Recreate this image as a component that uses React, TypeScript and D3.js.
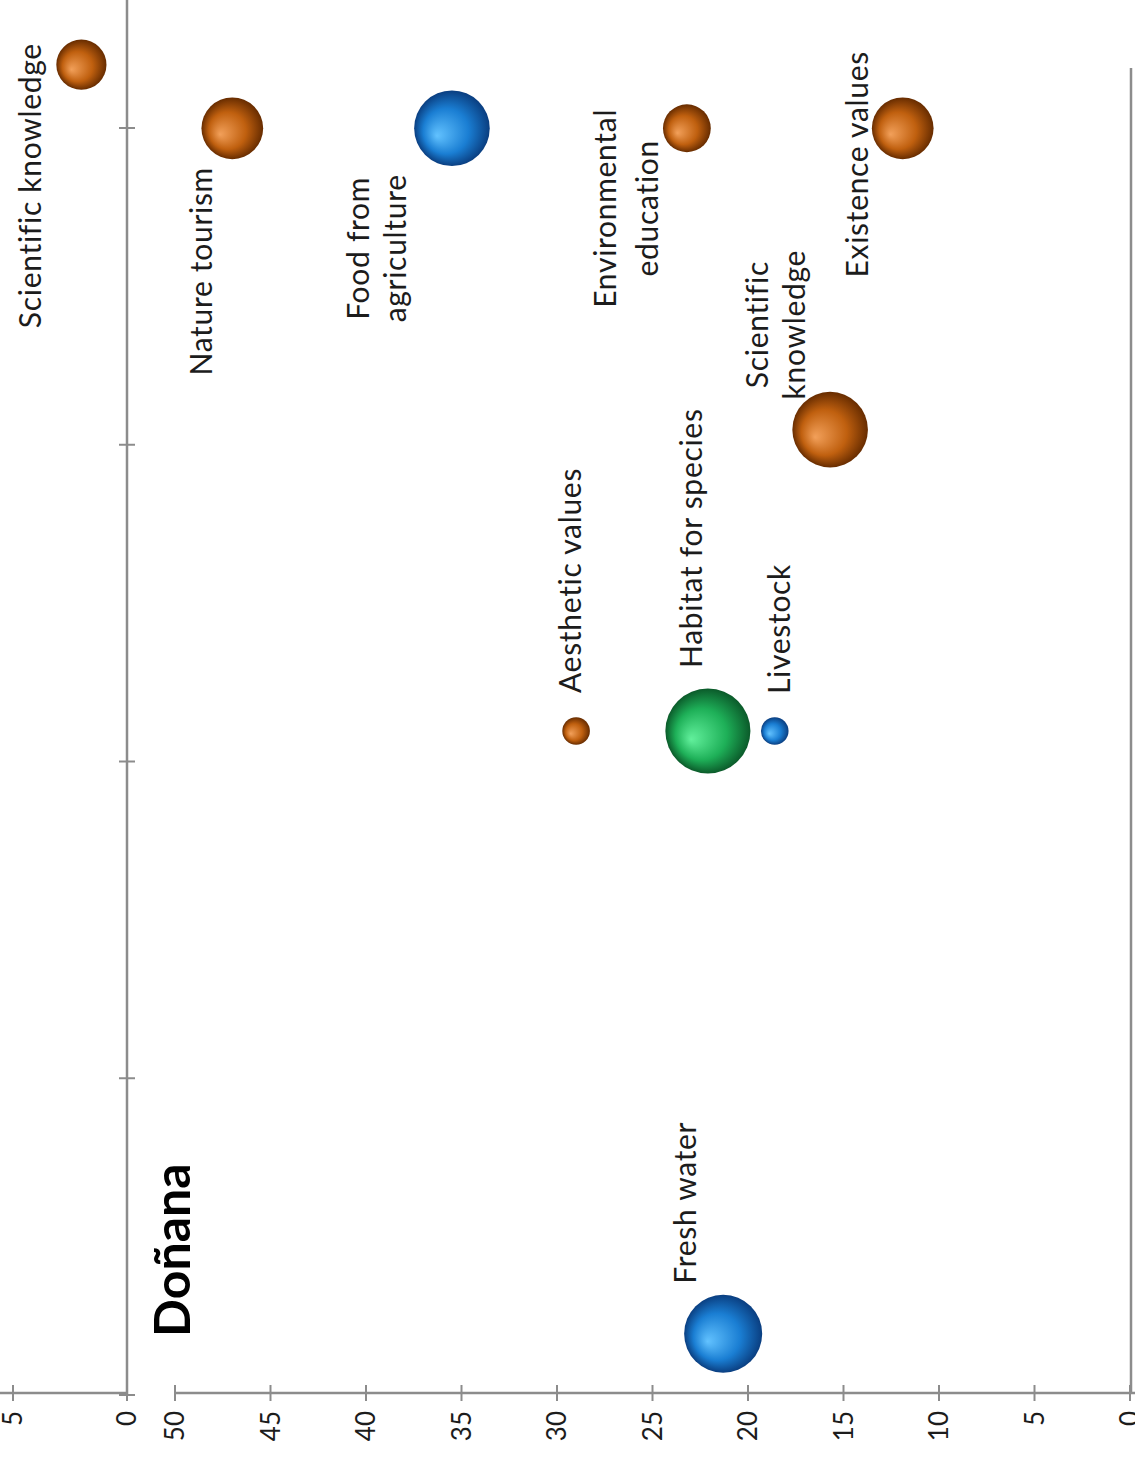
import React from "react";
import * as d3 from "d3";

// ---- Data (lower panel: Doñana) ----
const services = [
  "Nature tourism",
  "Food from\nagriculture",
  "Environmental\neducation",
  "Existence values",
  "Scientific\nknowledge",
  "Aesthetic values",
  "Habitat for species",
  "Livestock",
  "Fresh water",
];
const xValues = [5, 5, 5, 5, 4, 3, 3, 3, 1];
const yValues = [47, 35.5, 23.2, 11.9, 15.7, 29, 22.1, 18.6, 21.3];
const sizes = [5, 7.5, 3, 5, 7.5, 1, 9.5, 1, 8];
const serviceTypes = [
  "cultural",
  "provisioning",
  "cultural",
  "cultural",
  "cultural",
  "cultural",
  "regulating",
  "provisioning",
  "provisioning",
];
const yTicks = [0, 5, 10, 15, 20, 25, 30, 35, 40, 45, 50];

// ---- Data (upper panel, partly visible) ----
const upperServices = ["Scientific knowledge"];
const upperX = [4.2];
const upperY = [2];
const upperSizes = [3.3];
const upperServiceTypes = ["cultural"];
const upperYTicks = [0, 5];
const upperXTicks = [0, 1, 2, 3, 4];

const title = "Doñana";

// ---- Layout (label offsets relative to bubble centre, image space) ----
type LabelLayout = { dx: number[]; dy: number; anchor: "start" | "middle" | "end" };
const labelLayout: LabelLayout[] = [
  { dx: [-20], dy: 143, anchor: "middle" },
  { dx: [-83, -46], dy: 120, anchor: "middle" },
  { dx: [-71, -29], dy: 80, anchor: "middle" },
  { dx: [-35], dy: 36, anchor: "middle" },
  { dx: [-62, -25], dy: -105, anchor: "middle" },
  { dx: [5], dy: -38, anchor: "start" },
  { dx: [-6], dy: -63, anchor: "start" },
  { dx: [15], dy: -37, anchor: "start" },
  { dx: [-27], dy: -131, anchor: "middle" },
];
const upperLabelLayout: LabelLayout[] = [{ dx: [-40], dy: 121, anchor: "middle" }];

const W = 1135;
const H = 1462;
const AXIS = "#8c8c8c";
const TEXT = "#1c1c1c";
const FONT = "Lato, 'Open Sans', sans-serif";

const gradients: Record<string, [string, string, string]> = {
  cultural: ["#f2a05a", "#c0600f", "#672c00"],
  provisioning: ["#62c2ff", "#1a7ed3", "#0a3e80"],
  regulating: ["#62f09c", "#1eb058", "#0b5a2a"],
};

export default function App() {
  // lower panel scales: value axis runs horizontally (image x), category axis vertically (image y)
  const yScale = d3.scaleLinear().domain([0, 50]).range([1130, 175]);
  const xScale = d3.scaleLinear().domain([0.8, 5.2]).range([1394, 68]);
  const rScale = d3.scaleSqrt().domain([0, 1]).range([0, 13.8]);

  // upper panel scales
  const uyScale = d3.scaleLinear().domain([0, 5]).range([127, 13]);
  const uxScale = d3.scaleLinear().domain([0, 4]).range([1395, 128]);

  const lowerAxisY = 1393;
  const upperAxisX = 127;

  const bubble = (cx: number, cy: number, r: number, type: string, key: string) => (
    <circle key={key} cx={cx} cy={cy} r={r} fill={`url(#grad-${type})`} />
  );

  const label = (
    text: string,
    bx: number,
    by: number,
    lay: LabelLayout,
    key: string
  ) => {
    const lines = text.split("\n");
    return (
      <g key={key}>
        {lines.map((ln, i) => {
          const x = bx + lay.dx[Math.min(i, lay.dx.length - 1)];
          const y = by + lay.dy;
          return (
            <text
              key={i}
              transform={`translate(${x},${y}) rotate(-90)`}
              textAnchor={lay.anchor}
              fontFamily={FONT}
              fontSize={30}
              letterSpacing={0.7}
              fill={TEXT}
            >
              {ln}
            </text>
          );
        })}
      </g>
    );
  };

  return (
    <svg
      width={W}
      height={H}
      viewBox={`0 0 ${W} ${H}`}
      style={{ position: "absolute", left: 0, top: 0, background: "#fff" }}
    >
      <defs>
        {Object.entries(gradients).map(([k, [hi, mid, lo]]) => (
          <radialGradient key={k} id={`grad-${k}`} cx="0.5" cy="0.5" r="0.5" fx="0.3" fy="0.6">
            <stop offset="0%" stopColor={hi} />
            <stop offset="60%" stopColor={mid} />
            <stop offset="100%" stopColor={lo} />
          </radialGradient>
        ))}
      </defs>
      <rect x={0} y={0} width={W} height={H} fill="#fff" />

      {/* ---- Upper panel axes ---- */}
      <line x1={upperAxisX} x2={upperAxisX} y1={0} y2={uxScale(0)} stroke={AXIS} strokeWidth={2.5} />
      {upperXTicks.map((t) => (
        <line
          key={`uxt${t}`}
          x1={upperAxisX - 8}
          x2={upperAxisX + 8}
          y1={uxScale(t)}
          y2={uxScale(t)}
          stroke={AXIS}
          strokeWidth={2}
        />
      ))}
      <line x1={0} x2={uyScale(0)} y1={lowerAxisY} y2={lowerAxisY} stroke={AXIS} strokeWidth={2.5} />
      {upperYTicks.map((t) => (
        <g key={`uyt${t}`}>
          <line
            x1={uyScale(t)}
            x2={uyScale(t)}
            y1={lowerAxisY - 8}
            y2={lowerAxisY + 8}
            stroke={AXIS}
            strokeWidth={2}
          />
          <text
            transform={`translate(${uyScale(t)},${lowerAxisY + 18}) rotate(-90)`}
            textAnchor="end"
            dy="0.35em"
            fontFamily={FONT}
            fontSize={26}
            fill={TEXT}
          >
            {t}
          </text>
        </g>
      ))}

      {/* ---- Lower panel axes ---- */}
      <line x1={yScale(50)} x2={W} y1={lowerAxisY} y2={lowerAxisY} stroke={AXIS} strokeWidth={2.5} />
      {yTicks.map((t) => (
        <g key={`yt${t}`}>
          <line
            x1={yScale(t)}
            x2={yScale(t)}
            y1={lowerAxisY - 8}
            y2={lowerAxisY + 8}
            stroke={AXIS}
            strokeWidth={2}
          />
          <text
            transform={`translate(${yScale(t)},${lowerAxisY + 18}) rotate(-90)`}
            textAnchor="end"
            dy="0.35em"
            fontFamily={FONT}
            fontSize={26}
            fill={TEXT}
          >
            {t}
          </text>
        </g>
      ))}
      <line x1={yScale(0) + 1} x2={yScale(0) + 1} y1={68} y2={lowerAxisY} stroke={AXIS} strokeWidth={2.5} />

      {/* ---- Title ---- */}
      <text
        transform={`translate(190,1337) rotate(-90)`}
        textAnchor="start"
        fontFamily={FONT}
        fontWeight="bold"
        fontSize={50}
        fill="#000"
      >
        {title}
      </text>

      {/* ---- Bubbles ---- */}
      {upperServices.map((s, i) =>
        bubble(uyScale(upperY[i]), uxScale(upperX[i]), rScale(upperSizes[i]), upperServiceTypes[i], `ub${i}`)
      )}
      {services.map((s, i) =>
        bubble(yScale(yValues[i]), xScale(xValues[i]), rScale(sizes[i]), serviceTypes[i], `b${i}`)
      )}

      {/* ---- Labels ---- */}
      {upperServices.map((s, i) =>
        label(s, uyScale(upperY[i]), uxScale(upperX[i]), upperLabelLayout[i], `ul${i}`)
      )}
      {services.map((s, i) =>
        label(s, yScale(yValues[i]), xScale(xValues[i]), labelLayout[i], `l${i}`)
      )}
    </svg>
  );
}
